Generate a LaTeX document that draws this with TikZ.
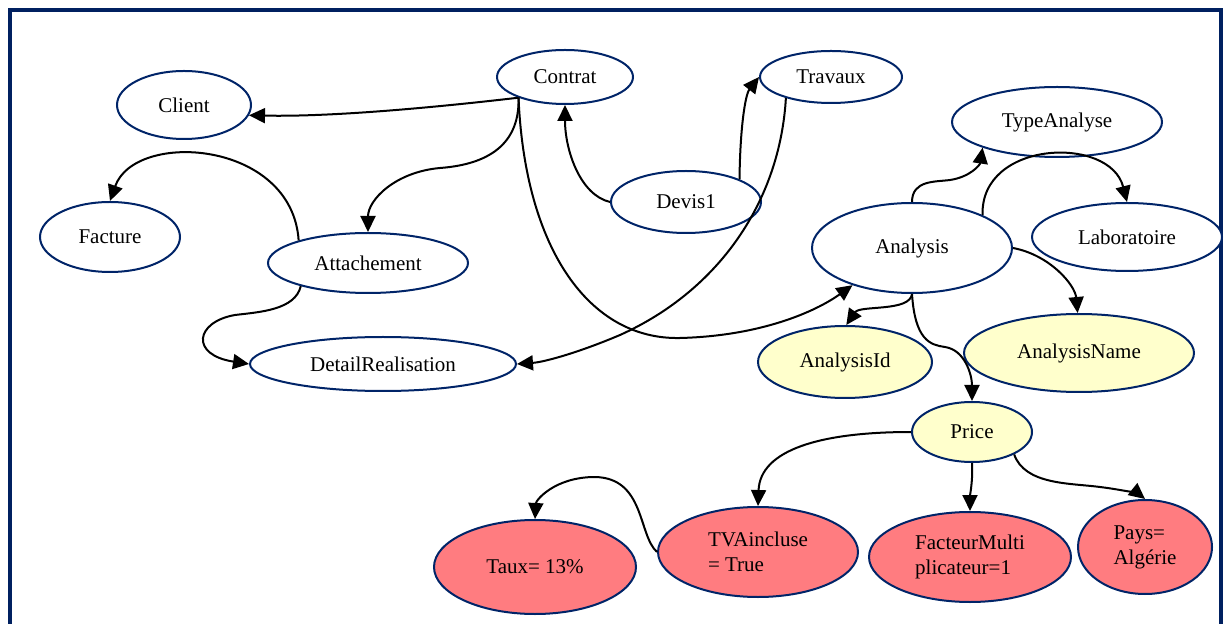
\documentclass[tikz,border=0pt]{standalone}
\usepackage{fontspec}
\setmainfont{Liberation Serif}
\usepackage{xcolor}
\usepackage{tikz}
\usetikzlibrary{shapes.geometric,arrows.meta,positioning}
\definecolor{navy}{RGB}{0,36,104}
\definecolor{framecol}{RGB}{0,32,96}
\definecolor{paleyellow}{RGB}{255,255,204}
\definecolor{salmon}{RGB}{255,124,128}

\begin{document}
\begin{tikzpicture}[
  x=0.5pt, y=-0.5pt,
  ent/.style={ellipse, draw=navy, line width=1pt, fill=white, inner sep=0pt,
    font=\fontsize{10.5}{12.5}\selectfont},
  attrib/.style={ent, fill=paleyellow},
  valbox/.style={ent, fill=salmon, align=left},
  link/.style={draw, line width=1pt, -{Triangle[length=8pt,width=7.5pt]}}
]
\useasboundingbox (0,0) rectangle (1224,624);
\draw[framecol, line width=2pt] (10,640) -- (10,10) -- (1221,10) -- (1221,640);

% entities
\node[ent, minimum width=67pt, minimum height=34pt] (client) at (184,105) {Client};
\node[ent, minimum width=70pt, minimum height=35pt] (facture) at (110,237) {Facture};
\node[ent, minimum width=68pt, minimum height=27pt] (contrat) at (565,77) {Contrat};
\node[ent, minimum width=71pt, minimum height=26pt] (travaux) at (831,77) {Travaux};
\node[ent, minimum width=75pt, minimum height=31pt] (devis) at (686,202) {Devis1};
\node[ent, minimum width=100pt, minimum height=30pt] (attach) at (368,263) {Attachement};
\node[ent, minimum width=133pt, minimum height=27pt] (detail) at (383,364) {DetailRealisation};
\node[ent, minimum width=105pt, minimum height=35pt] (typea) at (1057,122) {TypeAnalyse};
\node[ent, minimum width=95pt, minimum height=34pt] (labo) at (1127,237) {Laboratoire};
\node[ent, minimum width=100pt, minimum height=45pt] (analysis) at (912,248) {Analysis};

% attributes
\node[attrib, minimum width=87pt, minimum height=36pt] (aid) at (845,362) {AnalysisId};
\node[attrib, minimum width=115pt, minimum height=39pt] (aname) at (1079,353) {AnalysisName};
\node[attrib, minimum width=60pt, minimum height=30pt] (price) at (972,432) {Price};

% values
\node[valbox, minimum width=101pt, minimum height=47pt] (taux) at (535,567) {Taux= 13\%};
\node[valbox, minimum width=100pt, minimum height=45pt] (tva) at (758,552) {TVAincluse\\= True};
\node[valbox, minimum width=101pt, minimum height=45pt] (facteur) at (970,557) {FacteurMulti\\plicateur=1};
\node[valbox, minimum width=67pt, minimum height=47pt] (pays) at (1145,547) {Pays=\\Algérie};

% links
\draw[link] (contrat.204) .. controls (430,108) and (330,117) .. (client.351);
\draw[link] (contrat.204) .. controls (520,150) and (480,165) .. (440,168)
  .. controls (395,172) and (368,200) .. (attach.90);
\draw[link] (contrat.204) .. controls (525,250) and (590,340) .. (680,338)
  .. controls (760,336) and (815,312) .. (analysis.212);
\draw[link] (travaux.205) .. controls (780,200) and (720,290) .. (620,335)
  .. controls (580,352) and (545,362) .. (detail.east);
\draw[link] (devis.180) .. controls (580,195) and (565,150) .. (contrat.270);
\draw[link] (devis.23) .. controls (740,130) and (745,95) .. (travaux.180);
\draw[link] (attach.162) .. controls (292,140) and (135,130) .. (facture.90);
\draw[link] (attach.199) .. controls (295,310) and (260,312) .. (235,315)
  .. controls (195,322) and (190,355) .. (detail.180);
\draw[link] (analysis.90) .. controls (912,180) and (935,182) .. (950,180)
  .. controls (970,177) and (980,165) .. (typea.199);
\draw[link] (analysis.25) .. controls (980,140) and (1110,135) .. (labo.90);
\draw[link] (analysis.0) .. controls (1050,255) and (1075,285) .. (aname.92);
\draw[link] (analysis.270) .. controls (910,312) and (860,305) .. (aid.88);
\draw[link] (analysis.270) .. controls (915,340) and (930,345) .. (945,347)
  .. controls (965,350) and (972,375) .. (price.90);
\draw[link] (price.180) .. controls (820,432) and (760,450) .. (tva.90);
\draw[link] (price.270) .. controls (973,480) and (970,495) .. (facteur.90);
\draw[link] (price.332) .. controls (1025,485) and (1070,483) .. (1100,487)
  .. controls (1125,490) and (1140,495) .. (pays.90);
\draw[link] (tva.180) .. controls (638,535) and (645,478) .. (595,477)
  .. controls (555,477) and (536,500) .. (taux.90);
\end{tikzpicture}
\end{document}
